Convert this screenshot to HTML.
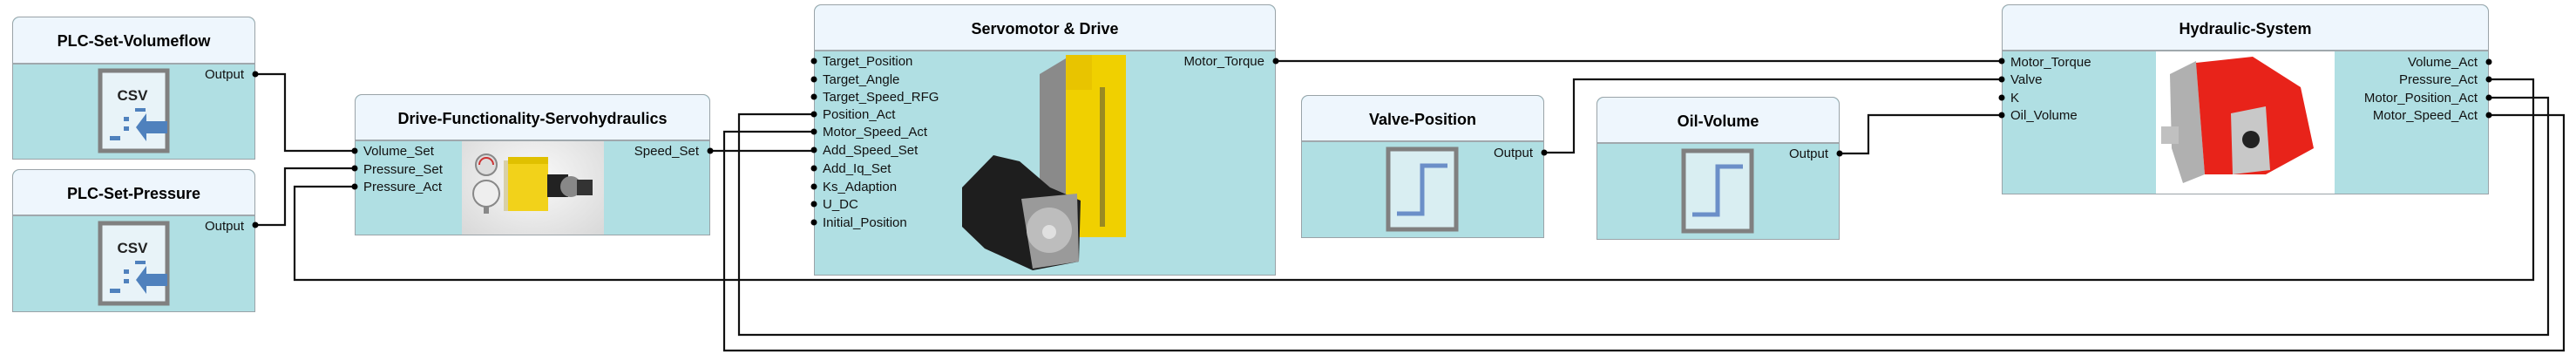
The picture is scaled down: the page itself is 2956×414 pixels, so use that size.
<!DOCTYPE html>
<html><head><meta charset="utf-8"><style>
body{margin:0;width:2956px;height:414px;background:#fff;position:relative;overflow:hidden;font-family:"Liberation Sans","DejaVu Sans",sans-serif;}
.b{position:absolute;background:#b0dfe3;border:1.5px solid #9aa3a8;box-sizing:border-box;border-radius:8px 8px 0 0;}
.h{position:absolute;left:0;right:0;top:0;background:#eef6fd;border-bottom:2px solid #a0a8ad;border-radius:8px 8px 0 0;font-weight:bold;font-size:18px;text-align:center;color:#000;}
.p{position:absolute;font-size:15px;color:#111;line-height:18px;white-space:nowrap;}
.r{text-align:right;}
svg{position:absolute;left:0;top:0;}
</style></head><body>

<!-- PLC-Set-Volumeflow -->
<div class="b" style="left:14px;top:19px;width:279px;height:164px;">
 <div class="h" style="height:52px;line-height:54px;">PLC-Set-Volumeflow</div>
 <div class="p r" style="right:12px;top:57px;">Output</div>
</div>
<!-- PLC-Set-Pressure -->
<div class="b" style="left:14px;top:194px;width:279px;height:164px;">
 <div class="h" style="height:51px;line-height:54px;">PLC-Set-Pressure</div>
 <div class="p r" style="right:12px;top:56px;">Output</div>
</div>
<!-- Drive-Functionality -->
<div class="b" style="left:407px;top:108px;width:408px;height:162px;">
 <div class="h" style="height:51px;line-height:54px;">Drive-Functionality-Servohydraulics</div>
 <div style="position:absolute;left:122px;top:53px;width:163px;height:107px;background:radial-gradient(ellipse at 50% 40%,#fafafa,#d8d8d8);"></div>
 <div class="p" style="left:9px;top:56px;">Volume_Set</div>
 <div class="p" style="left:9px;top:77px;">Pressure_Set</div>
 <div class="p" style="left:9px;top:97px;">Pressure_Act</div>
 <div class="p r" style="right:12px;top:56px;">Speed_Set</div>
</div>
<!-- Servomotor -->
<div class="b" style="left:934px;top:5px;width:530px;height:311px;">
 <div class="h" style="height:51px;line-height:55px;">Servomotor &amp; Drive</div>
 <div class="p" style="left:9px;top:56px;">Target_Position</div>
 <div class="p" style="left:9px;top:77px;">Target_Angle</div>
 <div class="p" style="left:9px;top:97px;">Target_Speed_RFG</div>
 <div class="p" style="left:9px;top:117px;">Position_Act</div>
 <div class="p" style="left:9px;top:137px;">Motor_Speed_Act</div>
 <div class="p" style="left:9px;top:158px;">Add_Speed_Set</div>
 <div class="p" style="left:9px;top:179px;">Add_Iq_Set</div>
 <div class="p" style="left:9px;top:200px;">Ks_Adaption</div>
 <div class="p" style="left:9px;top:220px;">U_DC</div>
 <div class="p" style="left:9px;top:241px;">Initial_Position</div>
 <div class="p r" style="right:12px;top:56px;">Motor_Torque</div>
</div>
<!-- Valve-Position -->
<div class="b" style="left:1493px;top:109px;width:279px;height:164px;">
 <div class="h" style="height:51px;line-height:54px;">Valve-Position</div>
 <div class="p r" style="right:12px;top:57px;">Output</div>
</div>
<!-- Oil-Volume -->
<div class="b" style="left:1832px;top:111px;width:279px;height:164px;">
 <div class="h" style="height:51px;line-height:54px;">Oil-Volume</div>
 <div class="p r" style="right:12px;top:56px;">Output</div>
</div>
<!-- Hydraulic-System -->
<div class="b" style="left:2297px;top:5px;width:559px;height:218px;">
 <div class="h" style="height:51px;line-height:55px;">Hydraulic-System</div>
 <div style="position:absolute;left:176px;top:53px;width:205px;height:163px;background:#fff;"></div>
 <div class="p" style="left:9px;top:57px;">Motor_Torque</div>
 <div class="p" style="left:9px;top:77px;">Valve</div>
 <div class="p" style="left:9px;top:98px;">K</div>
 <div class="p" style="left:9px;top:118px;">Oil_Volume</div>
 <div class="p r" style="right:12px;top:57px;">Volume_Act</div>
 <div class="p r" style="right:12px;top:77px;">Pressure_Act</div>
 <div class="p r" style="right:12px;top:98px;">Motor_Position_Act</div>
 <div class="p r" style="right:12px;top:118px;">Motor_Speed_Act</div>
</div>

<svg width="2956" height="414">
 <!-- CSV icons -->
 <g>
  <rect x="115" y="81" width="77" height="92" fill="#e8f3f8" stroke="#808080" stroke-width="5"/>
  <text x="152" y="115" font-family="Liberation Sans,sans-serif" font-weight="bold" font-size="17" text-anchor="middle" fill="#222">CSV</text>
  <g fill="#4f81bd"><rect x="155" y="124" width="12" height="4"/><rect x="142" y="134" width="6" height="5"/><rect x="142" y="145" width="6" height="5"/><rect x="126" y="156" width="12" height="5"/><polygon points="168,130 156,146 168,162 168,153 192,153 192,139 168,139"/></g>
 </g>
 <g transform="translate(0,175)">
  <rect x="115" y="81" width="77" height="92" fill="#e8f3f8" stroke="#808080" stroke-width="5"/>
  <text x="152" y="115" font-family="Liberation Sans,sans-serif" font-weight="bold" font-size="17" text-anchor="middle" fill="#222">CSV</text>
  <g fill="#4f81bd"><rect x="155" y="124" width="12" height="4"/><rect x="142" y="134" width="6" height="5"/><rect x="142" y="145" width="6" height="5"/><rect x="126" y="156" width="12" height="5"/><polygon points="168,130 156,146 168,162 168,153 192,153 192,139 168,139"/></g>
 </g>
 <!-- step icons -->
 <rect x="1593" y="171" width="78" height="92" fill="#d9eef2" stroke="#808080" stroke-width="5"/>
 <polyline points="1603,245 1632,245 1632,190 1661,190" fill="none" stroke="#6b8fc8" stroke-width="5"/>
 <rect x="1932" y="173" width="78" height="92" fill="#d9eef2" stroke="#808080" stroke-width="5"/>
 <polyline points="1942,246 1971,246 1971,191 2000,191" fill="none" stroke="#6b8fc8" stroke-width="5"/>

 <!-- Drive-functionality picture -->
 <circle cx="558" cy="189" r="12" fill="#ddd" stroke="#888" stroke-width="2"/>
 <path d="M550,189 A8,8 0 0 1 566,189" fill="none" stroke="#c33" stroke-width="2"/>
 <circle cx="558" cy="222" r="15" fill="#eee" stroke="#888" stroke-width="2"/>
 <rect x="555" y="237" width="6" height="8" fill="#888"/>
 <rect x="578" y="184" width="32" height="58" fill="#d8d0a8"/>
 <rect x="583" y="180" width="46" height="62" fill="#f2d21a"/>
 <rect x="583" y="180" width="46" height="8" fill="#e0c000"/>
 <rect x="628" y="200" width="24" height="26" fill="#222"/>
 <circle cx="655" cy="214" r="12" fill="#888"/>
 <rect x="662" y="206" width="18" height="18" fill="#333"/>

 <!-- Servomotor picture -->
 <polygon points="1193,85 1223,67 1223,270 1193,270" fill="#8a8a8a"/>
 <rect x="1223" y="63" width="69" height="209" fill="#f0d000"/>
 <rect x="1223" y="63" width="30" height="40" fill="#e8c400"/>
 <rect x="1262" y="100" width="6" height="160" fill="#444" opacity="0.5"/>
 <polygon points="1104,215 1140,178 1170,185 1205,215 1240,230 1238,300 1185,310 1130,285 1104,260" fill="#1e1e1e"/>
 <polygon points="1172,228 1236,222 1238,300 1185,308" fill="#9a9a9a"/>
 <circle cx="1204" cy="264" r="26" fill="#bdbdbd"/>
 <circle cx="1204" cy="266" r="8" fill="#e0e0e0"/>

 <!-- Hydraulic picture (red pump) -->
 <polygon points="2490,85 2520,70 2530,200 2505,210 2492,170" fill="#b0b0b0"/>
 <polygon points="2520,72 2585,65 2640,100 2655,170 2600,200 2530,200" fill="#e8231a"/>
 <polygon points="2560,130 2600,122 2605,195 2562,200" fill="#c8c8c8"/>
 <circle cx="2583" cy="160" r="10" fill="#222"/>
 <rect x="2480" y="145" width="20" height="20" fill="#c0c0c0"/>

 <!-- wires -->
 <g fill="none" stroke="#111" stroke-width="2.2">
  <polyline points="293,85 327,85 327,173 407,173"/>
  <polyline points="293,258 327,258 327,193 407,193"/>
  <polyline points="407,214 338,214 338,321 2907,321 2907,91 2856,91"/>
  <polyline points="815,173 934,173"/>
  <polyline points="934,131 848,131 848,384 2924,384 2924,112 2856,112"/>
  <polyline points="934,151 831,151 831,402 2942,402 2942,132 2856,132"/>
  <polyline points="1464,70 2297,70"/>
  <polyline points="1772,175 1806,175 1806,91 2297,91"/>
  <polyline points="2111,176 2144,176 2144,132 2297,132"/>
 </g>
 <!-- dots -->
 <g fill="#000">
  <circle cx="293" cy="85" r="3.5"/><circle cx="293" cy="258" r="3.5"/>
  <circle cx="407" cy="173" r="3.5"/><circle cx="407" cy="193" r="3.5"/><circle cx="407" cy="214" r="3.5"/>
  <circle cx="815" cy="173" r="3.5"/>
  <circle cx="934" cy="70" r="3.5"/><circle cx="934" cy="91" r="3.5"/><circle cx="934" cy="111" r="3.5"/><circle cx="934" cy="131" r="3.5"/><circle cx="934" cy="151" r="3.5"/><circle cx="934" cy="172" r="3.5"/><circle cx="934" cy="193" r="3.5"/><circle cx="934" cy="214" r="3.5"/><circle cx="934" cy="234" r="3.5"/><circle cx="934" cy="255" r="3.5"/>
  <circle cx="1464" cy="70" r="3.5"/>
  <circle cx="1772" cy="175" r="3.5"/><circle cx="2111" cy="176" r="3.5"/>
  <circle cx="2297" cy="70" r="3.5"/><circle cx="2297" cy="91" r="3.5"/><circle cx="2297" cy="112" r="3.5"/><circle cx="2297" cy="132" r="3.5"/>
  <circle cx="2856" cy="71" r="3.5"/><circle cx="2856" cy="91" r="3.5"/><circle cx="2856" cy="112" r="3.5"/><circle cx="2856" cy="132" r="3.5"/>
 </g>
</svg>
</body></html>
